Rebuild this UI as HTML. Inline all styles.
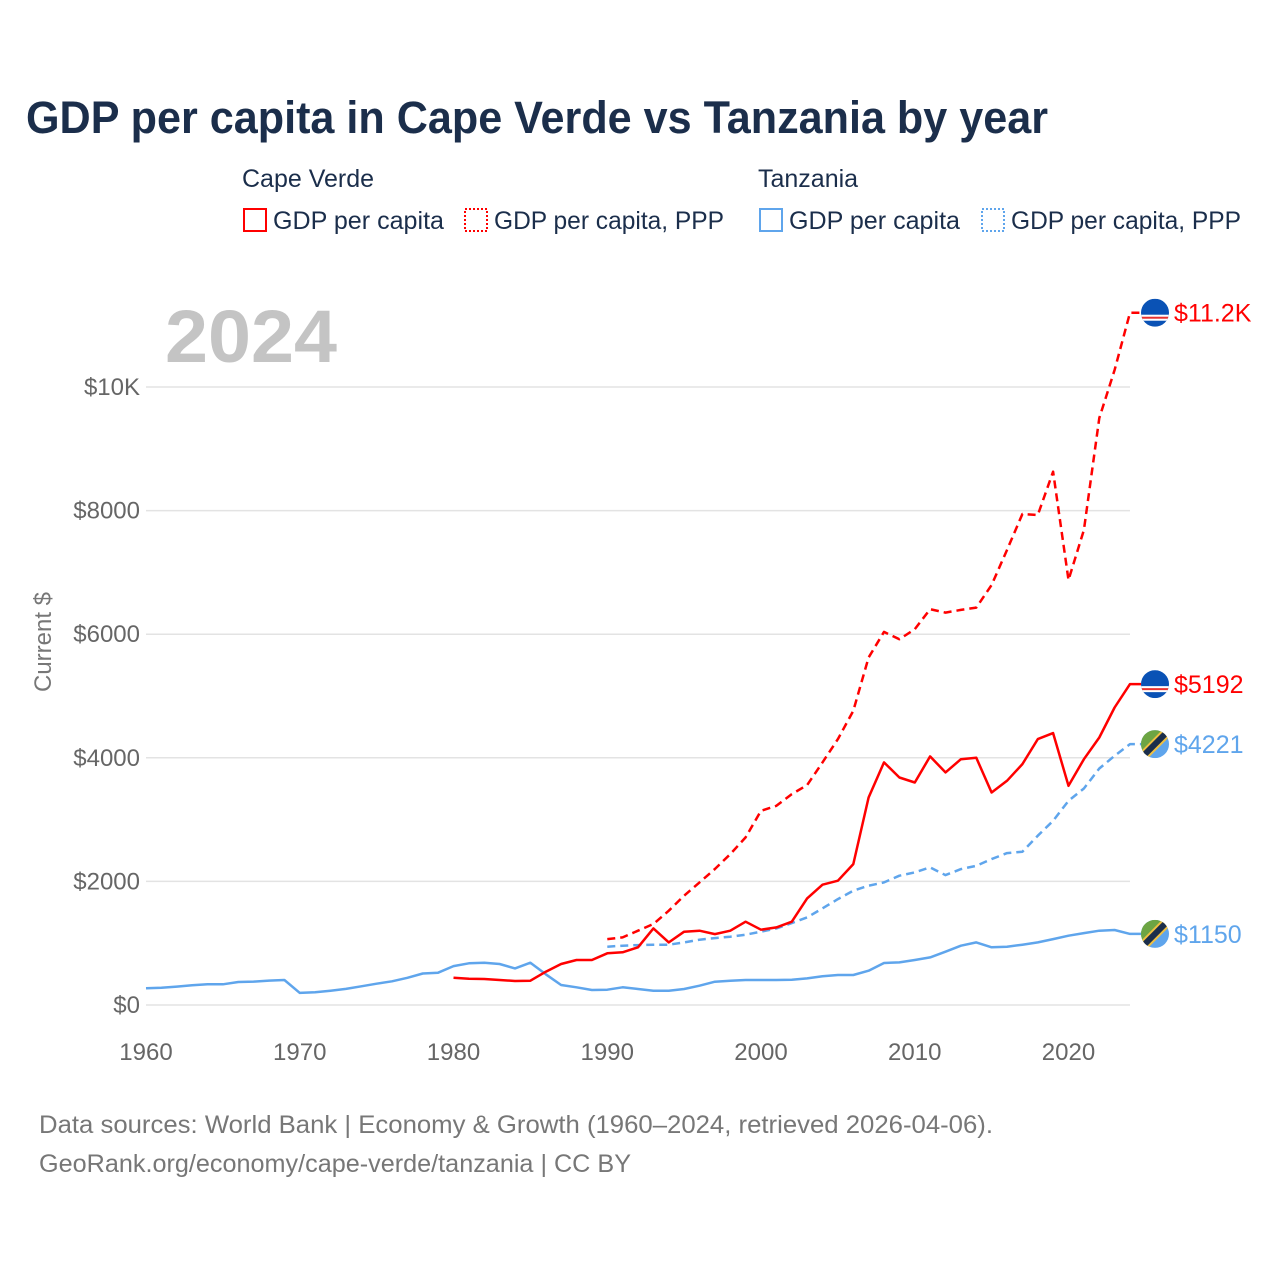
<!DOCTYPE html>
<html><head><meta charset="utf-8"><style>
body{margin:0;background:#fff;}
svg{display:block;font-family:"Liberation Sans",sans-serif;}
</style></head><body>
<svg id="chart" width="1280" height="1280" viewBox="0 0 1280 1280" xmlns="http://www.w3.org/2000/svg">
<rect width="1280" height="1280" fill="#fff"/>
<text x="26" y="133" font-size="45" font-weight="bold" fill="#1b2e4b" textLength="1022" lengthAdjust="spacingAndGlyphs">GDP per capita in Cape Verde vs Tanzania by year</text>
<g font-size="25" fill="#1b2e4b">
<text x="242" y="187">Cape Verde</text>
<g><rect x="244" y="209" width="22" height="22" fill="none" stroke="#ff0000" stroke-width="2"/><text x="273" y="229" textLength="171" lengthAdjust="spacingAndGlyphs">GDP per capita</text></g>
<g><rect x="465" y="209" width="22" height="22" fill="none" stroke="#ff0000" stroke-width="2" stroke-dasharray="2,2"/><text x="494" y="229" textLength="230" lengthAdjust="spacingAndGlyphs">GDP per capita, PPP</text></g>
<text x="758" y="187">Tanzania</text>
<g><rect x="760" y="209" width="22" height="22" fill="none" stroke="#5fa5ec" stroke-width="2"/><text x="789" y="229" textLength="171" lengthAdjust="spacingAndGlyphs">GDP per capita</text></g>
<g><rect x="982" y="209" width="22" height="22" fill="none" stroke="#5fa5ec" stroke-width="2" stroke-dasharray="2,2"/><text x="1011" y="229" textLength="230" lengthAdjust="spacingAndGlyphs">GDP per capita, PPP</text></g>
</g>
<text x="165" y="362" font-size="74" font-weight="bold" fill="#c4c4c4" textLength="172" lengthAdjust="spacingAndGlyphs">2024</text>
<text transform="translate(51,642) rotate(-90)" text-anchor="middle" font-size="24" fill="#777">Current $</text>
<g id="grid"></g><g id="yticks"></g><g id="xticks"></g><g id="lines"></g><g id="ends"></g>
<text x="39" y="1133" font-size="25" fill="#777" textLength="954" lengthAdjust="spacingAndGlyphs">Data sources: World Bank | Economy &amp; Growth (1960–2024, retrieved 2026-04-06).</text>
<text x="39" y="1172" font-size="25" fill="#777" textLength="592" lengthAdjust="spacingAndGlyphs">GeoRank.org/economy/cape-verde/tanzania | CC BY</text>
</svg>
<script>
const yTickValues=[0,2000,4000,6000,8000,10000];
const yTickLabels=["$0","$2000","$4000","$6000","$8000","$10K"];
const xTickYears=[1960,1970,1980,1990,2000,2010,2020];
const tzYears=[];for(let y=1960;y<=2024;y++)tzYears.push(y);
const tzGdp=[270,280,297,318,335,335,372,378,395,405,195,205,232,260,302,345,383,440,510,523,630,674,685,663,593,685,496,324,286,243,248,286,259,232,232,259,313,377,394,404,404,404,410,431,464,485,485,555,679,690,728,771,863,960,1013,933,943,976,1013,1067,1121,1164,1202,1213,1150];
const cvYears=[];for(let y=1980;y<=2024;y++)cvYears.push(y);
const cvGdp=[440,425,420,405,388,394,539,663,728,728,836,852,933,1240,1013,1186,1202,1148,1202,1348,1218,1256,1348,1725,1946,2011,2280,3358,3925,3682,3601,4022,3763,3978,4000,3439,3628,3898,4302,4399,3547,3978,4329,4814,5192];
const pppYears=[];for(let y=1990;y<=2024;y++)pppYears.push(y);
const cvPpp=[1067,1094,1202,1310,1526,1768,1984,2200,2442,2712,3143,3224,3412,3558,3925,4302,4760,5623,6038,5919,6081,6404,6350,6393,6431,6796,7362,7945,7929,8630,6877,7686,9498,10275,11202];
const tzPpp=[943,960,970,976,976,1013,1057,1083,1105,1137,1186,1240,1326,1418,1563,1714,1849,1930,1984,2092,2146,2226,2102,2199,2253,2361,2458,2480,2739,2981,3305,3504,3827,4032,4221];
const endLabels=["$11.2K","$5192","$4221","$1150"];

const NS="http://www.w3.org/2000/svg";
const X=yr=>146+(yr-1960)*(1130-146)/64;
const Y=v=>1005-v*0.0618;
function mk(tag,attrs,parent){const e=document.createElementNS(NS,tag);for(const k in attrs)e.setAttribute(k,attrs[k]);document.getElementById(parent).appendChild(e);return e;}
yTickValues.forEach((v,i)=>{
  const l=mk('line',{x1:146,x2:1130,y1:Y(v),y2:Y(v),stroke:'#e3e3e3','stroke-width':1.5},'grid');
  
  
  const t=mk('text',{x:140,y:Y(v)+8,'text-anchor':'end','font-size':24,fill:'#666'},'yticks');
  t.textContent=yTickLabels[i];
  
  
});
xTickYears.forEach(yr=>{
  const t=mk('text',{x:X(yr),y:1060,'text-anchor':'middle','font-size':24,fill:'#666'},'xticks');
  t.textContent=yr;
  
  
});
function line(years,vals,color,dash,name){
  let d=vals.map((v,i)=>(i?'L':'M')+X(years[i]).toFixed(1)+','+Y(v).toFixed(1)).join('');
  d+='L1141,'+Y(vals[vals.length-1]).toFixed(1);
  const p=mk('path',{d:d,fill:'none',stroke:color,'stroke-width':2.5,'stroke-linejoin':'round'},'lines');
  if(dash)p.setAttribute('stroke-dasharray','8,5');
  
  
}
line(tzYears,tzGdp,'#5fa5ec',false,'tanzania-gdp-line');
line(pppYears,tzPpp,'#5fa5ec',true,'tanzania-ppp-line');
line(cvYears,cvGdp,'#ff0000',false,'cape-verde-gdp-line');
line(pppYears,cvPpp,'#ff0000',true,'cape-verde-ppp-line');
const ends=[[cvPpp[cvPpp.length-1],'#ff0000','cv'],[cvGdp[cvGdp.length-1],'#ff0000','cv'],[tzPpp[tzPpp.length-1],'#5fa5ec','tz'],[tzGdp[tzGdp.length-1],'#5fa5ec','tz']];
ends.forEach((e,i)=>{
  const y=Y(e[0]);
  const g=mk('g',{},'ends');
  
  
  const cx=1155;
  if(e[2]==='cv'){
    g.innerHTML=`<clipPath id="c${i}"><circle cx="${cx}" cy="${y}" r="14"/></clipPath><g clip-path="url(#c${i})"><rect x="${cx-14}" y="${y-14}" width="28" height="28" fill="#0a52b5"/><rect x="${cx-14}" y="${y+2}" width="28" height="6" fill="#fff"/><rect x="${cx-14}" y="${y+4}" width="28" height="2" fill="#e8312f"/></g>`;
  } else {
    g.innerHTML=`<clipPath id="c${i}"><circle cx="${cx}" cy="${y}" r="14"/></clipPath><g clip-path="url(#c${i})"><rect x="${cx-14}" y="${y-14}" width="28" height="28" fill="#5fa5ec"/><polygon points="${cx-14},${y-14} ${cx+14},${y-14} ${cx-14},${y+14}" fill="#6da543"/><line x1="${cx-16}" y1="${y+16}" x2="${cx+16}" y2="${y-16}" stroke="#f0c040" stroke-width="10"/><line x1="${cx-16}" y1="${y+16}" x2="${cx+16}" y2="${y-16}" stroke="#1b2e4b" stroke-width="6"/></g>`;
  }
  const t=mk('text',{x:1174,y:y+9,'font-size':25,fill:e[1]},'ends');
  t.textContent=endLabels[i];
  
  
});
</script>
</body></html>
